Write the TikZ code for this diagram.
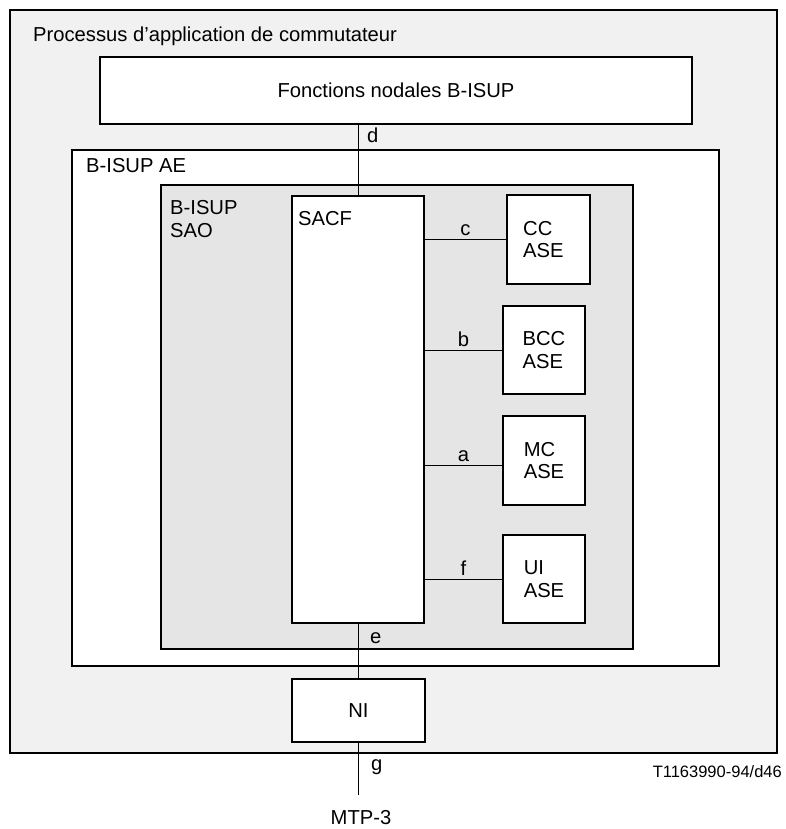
\documentclass[tikz,border=0pt]{standalone}
\usepackage{fontspec}
\setmainfont{Liberation Sans}
\usetikzlibrary{positioning}

\tikzset{
  box/.style={draw, line width=1.1pt, inner sep=0pt, fill=white},
  wire/.style={line width=1pt},
  lbl/.style={inner sep=0pt, font=\fontsize{20.2}{24}\selectfont},
  twoline/.style={align=left, font=\fontsize{20.2}{22.5}\selectfont}
}

\begin{document}
\begin{tikzpicture}[x=1pt, y=-1pt]
    \definecolor{myouter}{RGB}{241,241,241}
    \definecolor{mysao}{RGB}{229,229,229}

    \useasboundingbox (0,0) rectangle (785,829);

    \node[box, fill=myouter, minimum width=767pt, minimum height=743pt] (outer) at (393.5,381.5) {};
    \node[lbl, anchor=base west] (outertxt) at (33,42) {Processus d’application de commutateur};

    \node[box, lbl, minimum width=592pt, minimum height=67pt] (fonct) at (396,90.5) {Fonctions nodales B-ISUP};

    \node[box, minimum width=647pt, minimum height=516pt] (ae) at (395.5,408) {};
    \node[lbl, anchor=base west] (aetxt) at (86,173) {B-ISUP AE};

    \node[box, fill=mysao, minimum width=472pt, minimum height=464pt] (sao) at (397,417) {};
    \node[lbl, twoline, anchor=north west] (saotxt) at (170,200.5) {B-ISUP\\SAO};

    \node[box, minimum width=132pt, minimum height=427pt] (sacf) at (358,409.5) {};
    \node[lbl, anchor=base west] (sacftxt) at (298,225) {SACF};

    \node[box, minimum width=83pt, minimum height=89pt] (cc) at (548.5,239.5) {};
    \node[lbl, twoline, anchor=west] (cctxt) at (523,239.5) {CC\\ASE};
    \node[box, twoline, minimum width=82pt, minimum height=88pt] (bcc) at (544,350) {BCC\\ASE};
    \node[box, twoline, minimum width=82pt, minimum height=89pt] (mc) at (544,460.5) {MC\\ASE};
    \node[box, twoline, minimum width=82pt, minimum height=88pt] (ui) at (544,579) {UI\\ASE};

    \node[box, lbl, minimum width=133pt, minimum height=63pt] (ni) at (358.5,710.5) {NI};

    \draw[wire] (sacf.north |- fonct.south) -- (sacf.north);
    \node[lbl, anchor=base west] (lbld) at (367,143) {d};

    \draw[wire] (cc.west -| sacf.east) -- node[lbl, above=3pt] (lblc) {c} (cc.west);
    \draw[wire] (bcc.west -| sacf.east) -- node[lbl, above=3pt] (lblb) {b} (bcc.west);
    \draw[wire] ([yshift=-4.5pt]mc.west -| sacf.east) -- node[lbl, above=3pt] (lbla) {a} ([yshift=-4.5pt]mc.west);
    \draw[wire] (ui.west -| sacf.east) -- node[lbl, above=3pt] (lblf) {f} (ui.west);

    \draw[wire] (sacf.south) -- (sacf.south |- ni.north);
    \node[lbl, anchor=base west] (lble) at (370,643) {e};

    \coordinate (gend) at (358,795);
    \draw[wire] (sacf.south |- ni.south) -- (gend);
    \node[lbl, anchor=base west] (lblg) at (371,770) {g};
    \node[lbl, anchor=base] (mtp) at (361,824) {MTP-3};

    \node[inner sep=0pt, anchor=base east, font=\fontsize{16.5}{20}\selectfont] (ref) at (782,777) {T1163990-94/d46};
\end{tikzpicture}
\end{document}
